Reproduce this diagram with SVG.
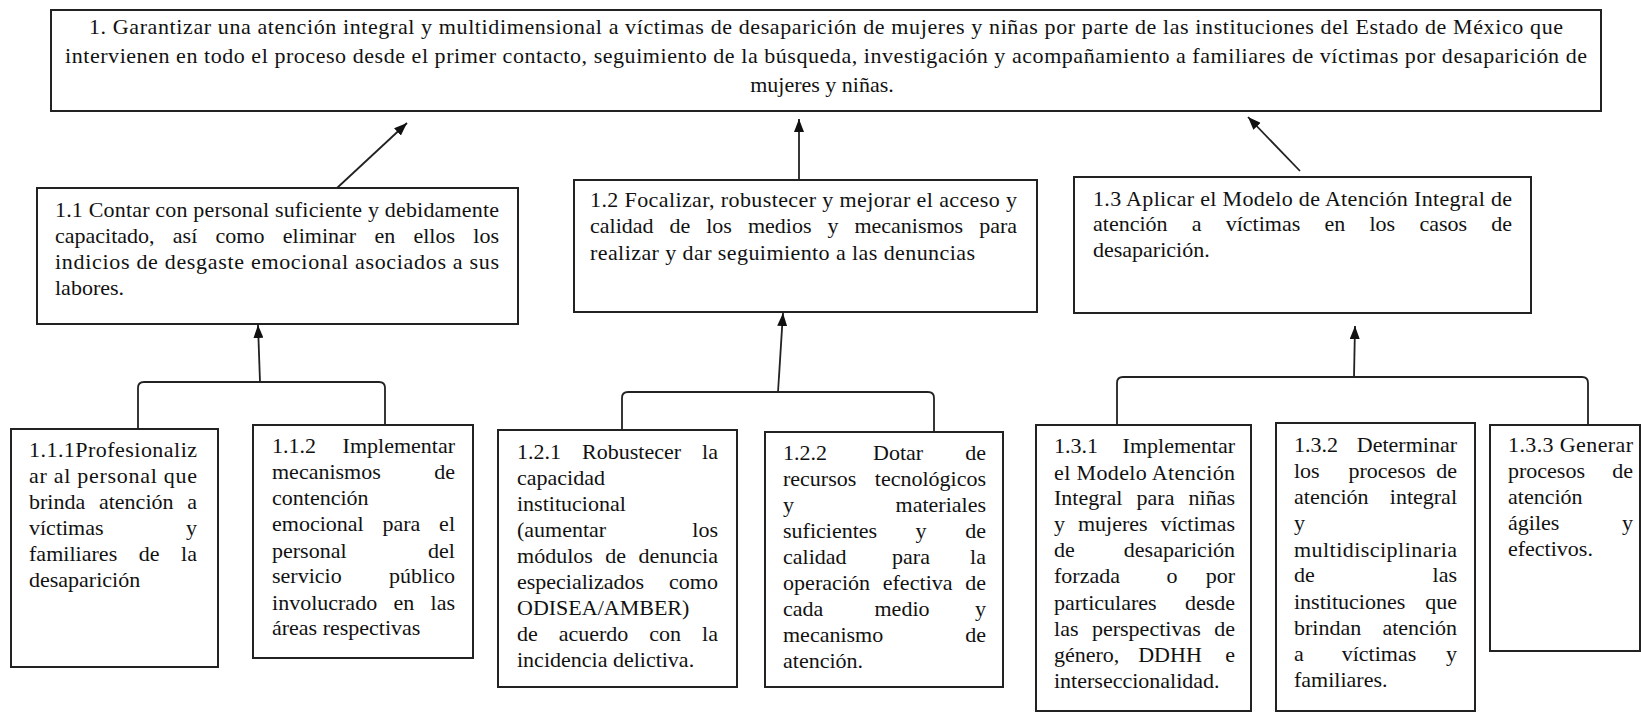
<svg xmlns="http://www.w3.org/2000/svg" width="1641" height="714" viewBox="0 0 1641 714">
<defs>
<style>
.bg{fill:#fff}
.box{fill:#fff;stroke:#222;stroke-width:2}
.t{font-family:"Liberation Serif","Times New Roman",serif;font-size:22px;fill:#111}
.e{text-anchor:end}
.m{text-anchor:middle}
.conn{fill:none;stroke:#222;stroke-width:1.8}
</style>
<marker id="ah" markerUnits="userSpaceOnUse" markerWidth="14" markerHeight="10" refX="13" refY="5" orient="auto">
<path d="M0,0 L13,5 L0,10 z" fill="#111"/>
</marker>
</defs>
<rect class="bg" x="0" y="0" width="1641" height="714"/>

<g id="connectors">
<line class="conn" x1="337" y1="188" x2="407" y2="123" marker-end="url(#ah)"/>
<line class="conn" x1="799" y1="180" x2="799" y2="119" marker-end="url(#ah)"/>
<line class="conn" x1="1300" y1="171" x2="1248" y2="117" marker-end="url(#ah)"/>
<path class="conn" d="M138,429 L138,388 Q138,382 144,382 L379,382 Q385,382 385,388 L385,425"/>
<line class="conn" x1="260" y1="382" x2="258" y2="325" marker-end="url(#ah)"/>
<path class="conn" d="M622,430 L622,398 Q622,392 628,392 L928,392 Q934,392 934,398 L934,432"/>
<line class="conn" x1="778" y1="392" x2="783" y2="313" marker-end="url(#ah)"/>
<path class="conn" d="M1117,425 L1117,383 Q1117,377 1123,377 L1582,377 Q1588,377 1588,383 L1588,425"/>
<line class="conn" x1="1354" y1="377" x2="1355" y2="326" marker-end="url(#ah)"/>
</g>

<g id="n1">
<rect class="box" x="51" y="10" width="1550" height="101"/>
<text class="t" x="89" y="34" textLength="1474" lengthAdjust="spacing">1. Garantizar una atención integral y multidimensional a víctimas de desaparición de mujeres y niñas por parte de las instituciones del Estado de México que</text>
<text class="t" x="65" y="63" textLength="1522" lengthAdjust="spacing">intervienen en todo el proceso desde el primer contacto, seguimiento de la búsqueda, investigación y acompañamiento a familiares de víctimas por desaparición de</text>
<text class="t m" x="822" y="92">mujeres y niñas.</text>
</g>

<g id="n1_1">
<rect class="box" x="37" y="188" width="481" height="136"/>
<text class="t" x="55" y="217" textLength="444" lengthAdjust="spacing">1.1 Contar con personal suficiente y debidamente</text>
<text class="t" x="55" y="243" word-spacing="12.8" textLength="444" lengthAdjust="spacing">capacitado, así como eliminar en ellos los</text>
<text class="t" x="55" y="269" textLength="444" lengthAdjust="spacing">indicios de desgaste emocional asociados a sus</text>
<text class="t" x="55" y="295">labores.</text>
</g>

<g id="n1_2">
<rect class="box" x="574" y="180" width="463" height="132"/>
<text class="t" x="590" y="207" textLength="427" lengthAdjust="spacing">1.2 Focalizar, robustecer y mejorar el acceso y</text>
<text class="t" x="590" y="233" word-spacing="10.5" textLength="427" lengthAdjust="spacing">calidad de los medios y mecanismos para</text>
<text class="t" x="590" y="260" textLength="385" lengthAdjust="spacing">realizar y dar seguimiento a las denuncias</text>
</g>

<g id="n1_3">
<rect class="box" x="1074" y="177" width="457" height="136"/>
<text class="t" x="1093" y="206" textLength="419" lengthAdjust="spacing">1.3 Aplicar el Modelo de Atención Integral de</text>
<text class="t" x="1093" y="231" word-spacing="18.7" textLength="419" lengthAdjust="spacing">atención a víctimas en los casos de</text>
<text class="t" x="1093" y="257">desaparición.</text>
</g>

<g id="n1_1_1">
<rect class="box" x="11" y="429" width="207" height="238"/>
<text class="t" x="29" y="457" textLength="168" lengthAdjust="spacing">1.1.1Profesionaliz</text>
<text class="t" x="29" y="483" textLength="168" lengthAdjust="spacing">ar al personal que</text>
<text class="t" x="29" y="509" word-spacing="8.2" textLength="168" lengthAdjust="spacing">brinda atención a</text>
<text class="t" x="29" y="535">víctimas</text><text class="t e" x="197" y="535">y</text>
<text class="t" x="29" y="561" word-spacing="16" textLength="168" lengthAdjust="spacing">familiares de la</text>
<text class="t" x="29" y="587">desaparición</text>
</g>

<g id="n1_1_2">
<rect class="box" x="253" y="425" width="220" height="233"/>
<text class="t" x="272" y="453">1.1.2</text><text class="t e" x="455" y="453">Implementar</text>
<text class="t" x="272" y="479">mecanismos</text><text class="t e" x="455" y="479">de</text>
<text class="t" x="272" y="505">contención</text>
<text class="t" x="272" y="531" word-spacing="13.3" textLength="183" lengthAdjust="spacing">emocional para el</text>
<text class="t" x="272" y="558">personal</text><text class="t e" x="455" y="558">del</text>
<text class="t" x="272" y="583">servicio</text><text class="t e" x="455" y="583">público</text>
<text class="t" x="272" y="610" word-spacing="10.8" textLength="183" lengthAdjust="spacing">involucrado en las</text>
<text class="t" x="272" y="635">áreas respectivas</text>
</g>

<g id="n1_2_1">
<rect class="box" x="498" y="430" width="239" height="257"/>
<text class="t" x="517" y="459" word-spacing="15.5" textLength="201" lengthAdjust="spacing">1.2.1 Robustecer la</text>
<text class="t" x="517" y="485">capacidad</text>
<text class="t" x="517" y="511">institucional</text>
<text class="t" x="517" y="537">(aumentar</text><text class="t e" x="718" y="537">los</text>
<text class="t" x="517" y="563" word-spacing="7" textLength="201" lengthAdjust="spacing">módulos de denuncia</text>
<text class="t" x="517" y="589">especializados</text><text class="t e" x="718" y="589">como</text>
<text class="t" x="517" y="615">ODISEA/AMBER)</text>
<text class="t" x="517" y="641" word-spacing="15.5" textLength="201" lengthAdjust="spacing">de acuerdo con la</text>
<text class="t" x="517" y="667">incidencia delictiva.</text>
</g>

<g id="n1_2_2">
<rect class="box" x="765" y="432" width="238" height="255"/>
<text class="t" x="783" y="460">1.2.2</text><text class="t" x="873" y="460">Dotar</text><text class="t e" x="986" y="460">de</text>
<text class="t" x="783" y="486">recursos</text><text class="t e" x="986" y="486">tecnológicos</text>
<text class="t" x="783" y="512">y</text><text class="t e" x="986" y="512">materiales</text>
<text class="t" x="783" y="538">suficientes</text><text class="t m" x="921" y="538">y</text><text class="t e" x="986" y="538">de</text>
<text class="t" x="783" y="564">calidad</text><text class="t m" x="911" y="564">para</text><text class="t e" x="986" y="564">la</text>
<text class="t" x="783" y="590" word-spacing="7" textLength="203" lengthAdjust="spacing">operación efectiva de</text>
<text class="t" x="783" y="616">cada</text><text class="t m" x="902" y="616">medio</text><text class="t e" x="986" y="616">y</text>
<text class="t" x="783" y="642">mecanismo</text><text class="t e" x="986" y="642">de</text>
<text class="t" x="783" y="668">atención.</text>
</g>

<g id="n1_3_1">
<rect class="box" x="1036" y="425" width="215" height="286"/>
<text class="t" x="1054" y="453">1.3.1</text><text class="t e" x="1235" y="453">Implementar</text>
<text class="t" x="1054" y="480" textLength="181" lengthAdjust="spacing">el Modelo Atención</text>
<text class="t" x="1054" y="505" word-spacing="8.6" textLength="181" lengthAdjust="spacing">Integral para niñas</text>
<text class="t" x="1054" y="531" word-spacing="7.5" textLength="181" lengthAdjust="spacing">y mujeres víctimas</text>
<text class="t" x="1054" y="557">de</text><text class="t e" x="1235" y="557">desaparición</text>
<text class="t" x="1054" y="583">forzada</text><text class="t m" x="1172" y="583">o</text><text class="t e" x="1235" y="583">por</text>
<text class="t" x="1054" y="610">particulares</text><text class="t e" x="1235" y="610">desde</text>
<text class="t" x="1054" y="636" word-spacing="8" textLength="181" lengthAdjust="spacing">las perspectivas de</text>
<text class="t" x="1054" y="662">género,</text><text class="t m" x="1170" y="662">DDHH</text><text class="t e" x="1235" y="662">e</text>
<text class="t" x="1054" y="688">interseccionalidad.</text>
</g>

<g id="n1_3_2">
<rect class="box" x="1276" y="423" width="199" height="288"/>
<text class="t" x="1294" y="452">1.3.2</text><text class="t e" x="1457" y="452">Determinar</text>
<text class="t" x="1294" y="478">los</text><text class="t m" x="1387" y="478">procesos</text><text class="t e" x="1457" y="478">de</text>
<text class="t" x="1294" y="504">atención</text><text class="t e" x="1457" y="504">integral</text>
<text class="t" x="1294" y="530">y</text>
<text class="t" x="1294" y="557" textLength="163" lengthAdjust="spacing">multidisciplinaria</text>
<text class="t" x="1294" y="582">de</text><text class="t e" x="1457" y="582">las</text>
<text class="t" x="1294" y="609">instituciones</text><text class="t e" x="1457" y="609">que</text>
<text class="t" x="1294" y="635">brindan</text><text class="t e" x="1457" y="635">atención</text>
<text class="t" x="1294" y="661">a</text><text class="t m" x="1379" y="661">víctimas</text><text class="t e" x="1457" y="661">y</text>
<text class="t" x="1294" y="687">familiares.</text>
</g>

<g id="n1_3_3">
<rect class="box" x="1490" y="425" width="150" height="226"/>
<text class="t" x="1508" y="452" textLength="125" lengthAdjust="spacing">1.3.3 Generar</text>
<text class="t" x="1508" y="478">procesos</text><text class="t e" x="1633" y="478">de</text>
<text class="t" x="1508" y="504">atención</text>
<text class="t" x="1508" y="530">ágiles</text><text class="t e" x="1633" y="530">y</text>
<text class="t" x="1508" y="556">efectivos.</text>
</g>
</svg>
